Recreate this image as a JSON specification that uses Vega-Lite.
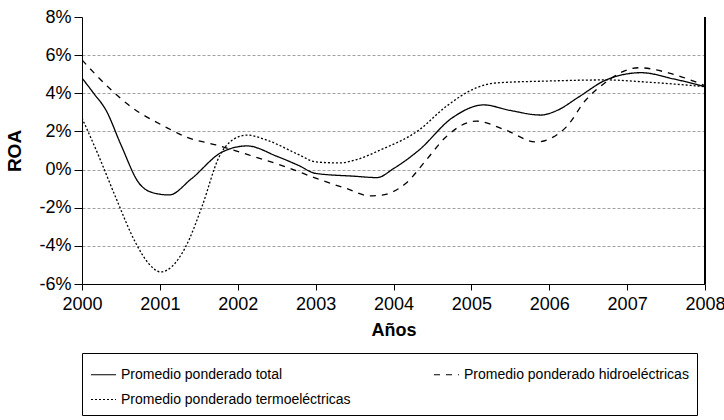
{
  "$schema": "https://vega.github.io/schema/vega-lite/v6.json",
  "width": 623,
  "height": 267,
  "padding": {"left": 5, "top": 8, "right": 4, "bottom": 4},
  "background": "white",
  "config": {
    "view": {"stroke": null},
    "font": "Liberation Sans",
    "axis": {"domainColor": "black", "tickColor": "black", "labelColor": "black", "titleColor": "black", "labelFont": "Liberation Sans", "titleFont": "Liberation Sans", "labelOverlap": false, "labelFlush": false}
  },
  "data": {"values": [
    {"year": 2000.0, "roa": 4.8, "serie": "Promedio ponderado total"},
    {"year": 2000.15, "roa": 4.0, "serie": "Promedio ponderado total"},
    {"year": 2000.31, "roa": 3.1, "serie": "Promedio ponderado total"},
    {"year": 2000.5, "roa": 1.3, "serie": "Promedio ponderado total"},
    {"year": 2000.73, "roa": -0.7, "serie": "Promedio ponderado total"},
    {"year": 2000.9, "roa": -1.2, "serie": "Promedio ponderado total"},
    {"year": 2001.12, "roa": -1.33, "serie": "Promedio ponderado total"},
    {"year": 2001.4, "roa": -0.5, "serie": "Promedio ponderado total"},
    {"year": 2001.8, "roa": 0.92, "serie": "Promedio ponderado total"},
    {"year": 2002.12, "roa": 1.24, "serie": "Promedio ponderado total"},
    {"year": 2002.5, "roa": 0.7, "serie": "Promedio ponderado total"},
    {"year": 2002.79, "roa": 0.2, "serie": "Promedio ponderado total"},
    {"year": 2003.0, "roa": -0.2, "serie": "Promedio ponderado total"},
    {"year": 2003.5, "roa": -0.35, "serie": "Promedio ponderado total"},
    {"year": 2003.79, "roa": -0.42, "serie": "Promedio ponderado total"},
    {"year": 2004.0, "roa": 0.05, "serie": "Promedio ponderado total"},
    {"year": 2004.33, "roa": 1.03, "serie": "Promedio ponderado total"},
    {"year": 2004.75, "roa": 2.7, "serie": "Promedio ponderado total"},
    {"year": 2005.16, "roa": 3.39, "serie": "Promedio ponderado total"},
    {"year": 2005.5, "roa": 3.1, "serie": "Promedio ponderado total"},
    {"year": 2005.89, "roa": 2.86, "serie": "Promedio ponderado total"},
    {"year": 2006.1, "roa": 3.1, "serie": "Promedio ponderado total"},
    {"year": 2006.38, "roa": 3.81, "serie": "Promedio ponderado total"},
    {"year": 2006.73, "roa": 4.7, "serie": "Promedio ponderado total"},
    {"year": 2007.18, "roa": 5.08, "serie": "Promedio ponderado total"},
    {"year": 2007.6, "roa": 4.75, "serie": "Promedio ponderado total"},
    {"year": 2008.0, "roa": 4.35, "serie": "Promedio ponderado total"},

    {"year": 2000.0, "roa": 5.75, "serie": "Promedio ponderado hidroeléctricas"},
    {"year": 2000.31, "roa": 4.43, "serie": "Promedio ponderado hidroeléctricas"},
    {"year": 2000.6, "roa": 3.38, "serie": "Promedio ponderado hidroeléctricas"},
    {"year": 2001.07, "roa": 2.24, "serie": "Promedio ponderado hidroeléctricas"},
    {"year": 2001.33, "roa": 1.72, "serie": "Promedio ponderado hidroeléctricas"},
    {"year": 2001.72, "roa": 1.29, "serie": "Promedio ponderado hidroeléctricas"},
    {"year": 2002.14, "roa": 0.77, "serie": "Promedio ponderado hidroeléctricas"},
    {"year": 2002.66, "roa": 0.08, "serie": "Promedio ponderado hidroeléctricas"},
    {"year": 2003.0, "roa": -0.45, "serie": "Promedio ponderado hidroeléctricas"},
    {"year": 2003.4, "roa": -1.0, "serie": "Promedio ponderado hidroeléctricas"},
    {"year": 2003.7, "roa": -1.38, "serie": "Promedio ponderado hidroeléctricas"},
    {"year": 2003.85, "roa": -1.34, "serie": "Promedio ponderado hidroeléctricas"},
    {"year": 2004.16, "roa": -0.72, "serie": "Promedio ponderado hidroeléctricas"},
    {"year": 2004.42, "roa": 0.5, "serie": "Promedio ponderado hidroeléctricas"},
    {"year": 2004.67, "roa": 1.7, "serie": "Promedio ponderado hidroeléctricas"},
    {"year": 2005.06, "roa": 2.54, "serie": "Promedio ponderado hidroeléctricas"},
    {"year": 2005.44, "roa": 2.07, "serie": "Promedio ponderado hidroeléctricas"},
    {"year": 2005.83, "roa": 1.45, "serie": "Promedio ponderado hidroeléctricas"},
    {"year": 2006.0, "roa": 1.6, "serie": "Promedio ponderado hidroeléctricas"},
    {"year": 2006.22, "roa": 2.24, "serie": "Promedio ponderado hidroeléctricas"},
    {"year": 2006.47, "roa": 3.65, "serie": "Promedio ponderado hidroeléctricas"},
    {"year": 2006.68, "roa": 4.44, "serie": "Promedio ponderado hidroeléctricas"},
    {"year": 2007.15, "roa": 5.34, "serie": "Promedio ponderado hidroeléctricas"},
    {"year": 2007.54, "roa": 5.06, "serie": "Promedio ponderado hidroeléctricas"},
    {"year": 2008.0, "roa": 4.4, "serie": "Promedio ponderado hidroeléctricas"},

    {"year": 2000.0, "roa": 2.7, "serie": "Promedio ponderado termoeléctricas"},
    {"year": 2000.22, "roa": 0.66, "serie": "Promedio ponderado termoeléctricas"},
    {"year": 2000.43, "roa": -1.43, "serie": "Promedio ponderado termoeléctricas"},
    {"year": 2000.69, "roa": -3.85, "serie": "Promedio ponderado termoeléctricas"},
    {"year": 2000.85, "roa": -4.9, "serie": "Promedio ponderado termoeléctricas"},
    {"year": 2001.01, "roa": -5.37, "serie": "Promedio ponderado termoeléctricas"},
    {"year": 2001.15, "roa": -5.1, "serie": "Promedio ponderado termoeléctricas"},
    {"year": 2001.33, "roa": -4.06, "serie": "Promedio ponderado termoeléctricas"},
    {"year": 2001.54, "roa": -1.95, "serie": "Promedio ponderado termoeléctricas"},
    {"year": 2001.76, "roa": 0.66, "serie": "Promedio ponderado termoeléctricas"},
    {"year": 2001.95, "roa": 1.6, "serie": "Promedio ponderado termoeléctricas"},
    {"year": 2002.12, "roa": 1.81, "serie": "Promedio ponderado termoeléctricas"},
    {"year": 2002.4, "roa": 1.5, "serie": "Promedio ponderado termoeléctricas"},
    {"year": 2002.79, "roa": 0.77, "serie": "Promedio ponderado termoeléctricas"},
    {"year": 2003.0, "roa": 0.4, "serie": "Promedio ponderado termoeléctricas"},
    {"year": 2003.3, "roa": 0.35, "serie": "Promedio ponderado termoeléctricas"},
    {"year": 2003.55, "roa": 0.55, "serie": "Promedio ponderado termoeléctricas"},
    {"year": 2003.81, "roa": 0.99, "serie": "Promedio ponderado termoeléctricas"},
    {"year": 2004.33, "roa": 2.08, "serie": "Promedio ponderado termoeléctricas"},
    {"year": 2004.67, "roa": 3.29, "serie": "Promedio ponderado termoeléctricas"},
    {"year": 2005.06, "roa": 4.28, "serie": "Promedio ponderado termoeléctricas"},
    {"year": 2005.31, "roa": 4.54, "serie": "Promedio ponderado termoeléctricas"},
    {"year": 2005.96, "roa": 4.64, "serie": "Promedio ponderado termoeléctricas"},
    {"year": 2006.73, "roa": 4.7, "serie": "Promedio ponderado termoeléctricas"},
    {"year": 2007.24, "roa": 4.59, "serie": "Promedio ponderado termoeléctricas"},
    {"year": 2008.0, "roa": 4.35, "serie": "Promedio ponderado termoeléctricas"}
  ]},
  "encoding": {
    "x": {"field": "year", "type": "quantitative", "scale": {"domain": [2000, 2008], "nice": false, "zero": false},
      "axis": {"values": [2000, 2001, 2002, 2003, 2004, 2005, 2006, 2007, 2008], "format": "d", "grid": false, "tickSize": 6, "labelFontSize": 18, "labelPadding": 5, "title": "Años", "titleFontSize": 18, "titleFontWeight": "bold", "titlePadding": 8}},
    "y": {"field": "roa", "type": "quantitative", "scale": {"domain": [-6, 8], "nice": false, "zero": false},
      "axis": {"values": [-6, -4, -2, 0, 2, 4, 6, 8], "labelExpr": "datum.value + '%'", "grid": true, "gridDash": [3, 2], "gridColor": {"condition": {"test": "datum.value == 8", "value": "white"}, "value": "#a0a0a0"}, "tickSize": 8, "labelFontSize": 18, "labelPadding": 3, "title": "ROA", "titleFontSize": 19, "titleFontWeight": "bold", "titlePadding": 14}}
  },
  "layer": [
    {
      "mark": {"type": "line", "interpolate": "monotone", "color": "black", "strokeWidth": 1.3, "clip": true},
      "encoding": {
        "strokeDash": {"field": "serie", "type": "nominal",
          "scale": {"domain": ["Promedio ponderado total", "Promedio ponderado hidroeléctricas", "Promedio ponderado termoeléctricas"], "range": [[1, 0], [6, 6], [2, 2]]},
          "legend": {"title": null, "orient": "bottom", "direction": "horizontal", "columns": 2, "symbolType": "stroke", "symbolStrokeColor": "black", "symbolStrokeWidth": 1.2, "symbolSize": 625, "labelFontSize": 14, "labelFont": "Liberation Sans", "labelColor": "black", "labelLimit": 400, "strokeColor": "black", "padding": 8, "columnPadding": 80, "rowPadding": 4, "offset": 14}}
      }
    },
    {
      "mark": {"type": "rule", "color": "black", "strokeWidth": 1},
      "encoding": {"x": {"datum": 2008}, "y": {"datum": -6}, "y2": {"datum": 8}}
    }
  ]
}
